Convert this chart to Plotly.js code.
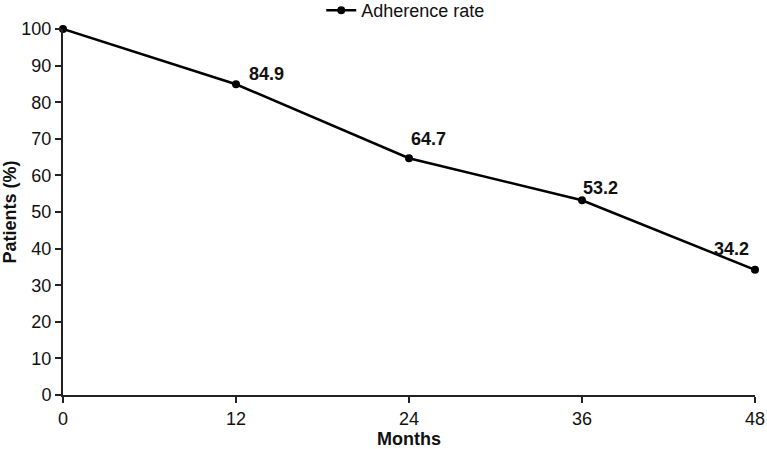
<!DOCTYPE html>
<html><head><meta charset="utf-8">
<script src="https://cdn.plot.ly/plotly-3.0.1.min.js"></script>
<style>body{margin:0;background:#fff}#c{width:767px;height:449px}</style>
</head><body><div id="c"></div>
<script>
var months = [0, 12, 24, 36, 48];
var adherence = [100, 84.9, 64.7, 53.2, 34.2];
var labelMonths = [12, 24, 36, 48];
var labelValues = [84.9, 64.7, 53.2, 34.2];
var labelShiftX = [30, 19, 18, -24];
var labelShiftY = [10, 19, 12, 21];

var ann = labelMonths.map(function(m, i){
  return {x: m, y: labelValues[i], xref:'x', yref:'y', text: '<b>' + labelValues[i].toFixed(1) + '</b>',
    showarrow:false, xshift: labelShiftX[i], yshift: labelShiftY[i],
    font:{family:'Liberation Sans, Arial, sans-serif', size:18, color:'#111'}, xanchor:'center', yanchor:'middle'};
});

Plotly.newPlot('c', [{
  x: months, y: adherence, type:'scatter', mode:'lines+markers', name:'Adherence rate',
  line:{color:'#000', width:2.5}, marker:{color:'#000', size:8}, cliponaxis:false
}], {
  width:767, height:449,
  margin:{l:63, r:12, t:29, b:54, autoexpand:false},
  paper_bgcolor:'#fff', plot_bgcolor:'#fff',
  font:{family:'Liberation Sans, Arial, sans-serif', size:18, color:'#111'},
  showlegend:true,
  legend:{orientation:'h', x:0.529, xanchor:'center', xref:'container', y:1.101, yanchor:'top', yref:'paper',
    font:{size:18}, bgcolor:'rgba(0,0,0,0)', itemwidth:30},
  xaxis:{range:[0,48], tickvals:months, showgrid:false, zeroline:false, showline:true, linecolor:'#222', linewidth:2,
    ticks:'outside', ticklen:6, tickwidth:1.5, tickcolor:'#222', tickfont:{size:18},
    title:{text:'<b>Months</b>', font:{size:18}, standoff:2}},
  yaxis:{range:[0,100], dtick:10, showgrid:false, zeroline:false, showline:true, linecolor:'#222', linewidth:2,
    ticks:'outside', ticklen:6, tickwidth:1.5, tickcolor:'#222', tickfont:{size:18},
    title:{text:'<b>Patients (%)</b>', font:{size:18}, standoff:4}},
  annotations: ann
}, {displayModeBar:false});
</script></body></html>
